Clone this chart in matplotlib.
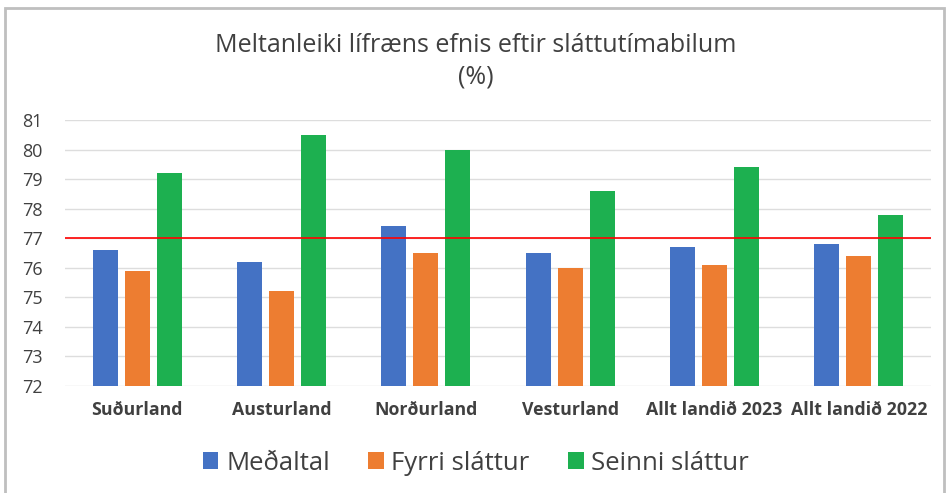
import numpy as np
import matplotlib.pyplot as plt
from matplotlib.patches import Rectangle

# Data
categories = ["Suðurland", "Austurland", "Norðurland", "Vesturland",
              "Allt landið 2023", "Allt landið 2022"]
medaltal = [76.6, 76.2, 77.4, 76.5, 76.7, 76.8]
fyrri = [75.9, 75.2, 76.5, 76.0, 76.1, 76.4]
seinni = [79.2, 80.5, 80.0, 78.6, 79.4, 77.8]
series_labels = ["Meðaltal", "Fyrri sláttur", "Seinni sláttur"]
reference_level = 77

colors = ["#4472C4", "#ED7D31", "#1DB050"]
plt.rcParams["font.family"] = ["Open Sans", "DejaVu Sans"]

fig = plt.figure(figsize=(9.52, 4.93), dpi=100)
ax = fig.add_axes([65 / 952, 1 - 386 / 493, 866 / 952, 266 / 493])

x = np.arange(len(categories))
width = 0.174
offset = 0.222
for i, (vals, lab) in enumerate(zip([medaltal, fyrri, seinni], series_labels)):
    ax.bar(x + (i - 1) * offset, np.array(vals) - 72, bottom=72, width=width,
           color=colors[i], label=lab, zorder=3)

ax.axhline(reference_level, color="#FF0000", linewidth=1.2, zorder=4)

ax.set_xlim(-0.5, len(categories) - 0.5)
ax.set_ylim(72, 81)
ax.set_yticks(range(72, 82))
ax.grid(True, axis="y", color="#DDDDDD", linewidth=1.0, zorder=0)
for s in ax.spines.values():
    s.set_visible(False)
ax.tick_params(axis="both", length=0)
ax.tick_params(axis="y", labelsize=13, labelcolor="#404040", pad=16)
ax.set_xticks(x)
ax.set_xticklabels(categories, fontsize=12.8, fontweight="bold", color="#404040")
ax.tick_params(axis="x", pad=11)

fig.text(0.5, 1 - 45 / 493, "Meltanleiki lífræns efnis eftir sláttutímabilum",
         ha="center", va="center", fontsize=18, color="#404040")
fig.text(0.5, 1 - 77 / 493, "(%)", ha="center", va="center",
         fontsize=18, color="#404040")

fig.legend(loc="center", bbox_to_anchor=(0.5, 1 - 463 / 493), ncol=3,
           frameon=False, fontsize=18.5, handlelength=0.6, handleheight=0.6,
           handletextpad=0.3, columnspacing=1.5, labelcolor="#404040")

# Outer frame
fig.patches.append(Rectangle((5 / 952, -0.02), 939 / 952, 1 - 8 / 493 + 0.02,
                             transform=fig.transFigure, fill=False,
                             edgecolor="#BFBFBF", linewidth=2))

fig.savefig("out.png", dpi=100)
